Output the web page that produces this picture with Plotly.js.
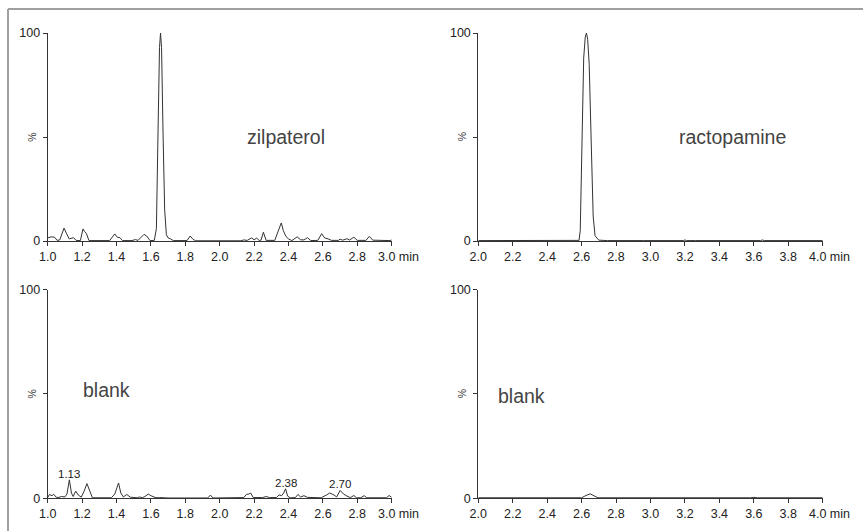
<!DOCTYPE html>
<html>
<head>
<meta charset="utf-8">
<script src="https://cdn.plot.ly/plotly-3.0.1.min.js"></script>
<style>html,body{margin:0;padding:0;background:#fff;}#chart{width:863px;height:531px;}</style>
</head>
<body>
<div id="chart"></div>
<script>
// Top-left: zilpaterol (time in min, intensity in %)
var zilTime = [1.00,1.02,1.04,1.055,1.07,1.095,1.11,1.125,1.15,1.165,1.19,1.205,1.215,1.225,1.24,1.36,1.39,1.405,1.42,1.435,1.49,1.51,1.525,1.545,1.56,1.575,1.595,1.62,1.632,1.641,1.650,1.656,1.662,1.671,1.68,1.69,1.70,1.715,1.73,1.81,1.828,1.845,1.86,2.12,2.14,2.16,2.185,2.20,2.215,2.23,2.24,2.254,2.27,2.32,2.345,2.358,2.37,2.385,2.40,2.42,2.45,2.47,2.49,2.51,2.53,2.57,2.593,2.61,2.63,2.65,2.69,2.70,2.715,2.74,2.755,2.78,2.80,2.85,2.87,2.89,2.99,3.0];
var zilInt  = [1.5,2.0,1.8,0.3,0.5,6.2,3.5,1.0,1.6,0.3,0.2,5.8,4.5,3.6,0.2,0.2,3.4,1.8,1.6,0.2,0.2,0.7,0.3,2.2,3.2,2.4,0.2,0.3,6,50,93,100,93,50,15,3,1.5,1.0,0.2,0.2,2.4,0.8,0.1,0.1,0.5,0.3,1.5,0.6,1.4,0.2,0.4,4.2,0.3,0.3,6,8.7,5,2.2,1.0,0.2,2.0,0.6,0.5,1.6,0.2,0.3,3.5,1.5,1.0,0.3,0.3,0.9,0.4,1.1,0.5,1.8,0.3,0.3,2.2,0.4,0.2,0.5];

// Top-right: ractopamine
var racTime = [2.0,2.45,2.48,2.50,2.585,2.592,2.601,2.612,2.621,2.628,2.635,2.644,2.655,2.667,2.678,2.69,2.70,2.75,2.94,2.96,3.19,3.20,3.21,3.24,3.26,3.64,3.65,3.66,3.92,3.94,4.0];
var racInt  = [0.2,0.2,0.4,0.2,0.3,5,50,88,98,100,97,85,50,12,2.5,1,0.4,0.2,0.5,0.2,0.2,0.5,0.2,0.4,0.2,0.2,0.5,0.2,0.4,0.2,0.2];

// Bottom-left: blank (zilpaterol channel)
var blank1Time = [1.00,1.01,1.025,1.035,1.05,1.065,1.08,1.10,1.112,1.126,1.138,1.148,1.163,1.178,1.195,1.21,1.228,1.245,1.26,1.37,1.39,1.412,1.425,1.44,1.46,1.48,1.52,1.535,1.55,1.565,1.585,1.60,1.615,1.63,1.65,1.665,1.685,1.70,1.93,1.946,1.96,2.14,2.155,2.17,2.18,2.195,2.25,2.27,2.29,2.33,2.345,2.36,2.372,2.383,2.395,2.41,2.44,2.455,2.47,2.49,2.51,2.55,2.56,2.59,2.62,2.64,2.665,2.68,2.70,2.72,2.74,2.76,2.78,2.795,2.82,2.84,2.855,2.97,2.985,3.0];
var blank1Int  = [0.3,1.8,1.2,1.9,0.4,0.4,0.8,0.6,2,8.8,2.5,0.8,3.4,1.5,0.5,3,7,3,0.2,0.2,2,7.3,2.5,0.6,1.8,0.5,0.2,0.6,0.2,0.8,2,1.2,0.6,0.2,0.3,0.2,0.4,0.1,0.1,1.5,0.1,0.3,1.8,2,2.5,0.3,0.3,0.8,0.3,0.3,1.6,1.2,2.5,4.5,1,0.2,0.3,1.8,0.6,1.2,0.4,0.3,0.4,0.2,1.5,2.5,1.5,0.6,3.7,2,1,0.3,1.3,0.2,0.2,1.2,0.2,0.2,1.3,0.4];
var blank1Labels = ["1.13","2.38","2.70"];
var blank1LabelTime = [1.126,2.383,2.70];
var blank1LabelInt = [8.8,4.5,3.7];

// Bottom-right: blank (ractopamine channel)
var blank2Time = [2.0,2.28,2.30,2.32,2.60,2.625,2.65,2.675,2.695,3.58,3.60,3.62,4.0];
var blank2Int  = [0.2,0.2,0.4,0.2,0.2,1.3,2.1,1.0,0.2,0.2,0.4,0.2,0.2];

var panelNames = ["zilpaterol","ractopamine","blank","blank"];
var xTicksLeft = [1.0,1.2,1.4,1.6,1.8,2.0,2.2,2.4,2.6,2.8,3.0];
var xTicksRight = [2.0,2.2,2.4,2.6,2.8,3.0,3.2,3.4,3.6,3.8,4.0];
var timeUnit = "min";
var yTickVals = [0,50,100];
var yTickText = ["0","","100"];

var lineStyle = {color:"#333333", width:1};
var font = "Liberation Sans, Arial, sans-serif";
var tickSize = 12.5;

var traces = [
  {x:zilTime, y:zilInt, xaxis:"x", yaxis:"y"},
  {x:racTime, y:racInt, xaxis:"x2", yaxis:"y2"},
  {x:blank1Time, y:blank1Int, xaxis:"x3", yaxis:"y3"},
  {x:blank2Time, y:blank2Int, xaxis:"x4", yaxis:"y4"}
].map(function(t){ t.type="scatter"; t.mode="lines"; t.line=lineStyle; t.hoverinfo="skip"; return t; });

function xax(dom, anchor, range, ticks){
  // last tick label is drawn together with the unit as "x.0 min"
  var txt = ticks.map(function(v,i){ return i===ticks.length-1 ? "" : v.toFixed(1); });
  return {domain:dom, anchor:anchor, range:range, tickvals:ticks, ticktext:txt,
    showline:true, linecolor:"#333", linewidth:1, ticks:"outside", ticklen:4, tickcolor:"#333",
    showgrid:false, zeroline:false, tickfont:{size:tickSize, color:"#222", family:font}, fixedrange:true};
}
function yax(dom, anchor){
  return {domain:dom, anchor:anchor, range:[0,100], tickvals:yTickVals, ticktext:yTickText,
    showline:true, linecolor:"#333", linewidth:1, ticks:"outside", ticklen:4, tickcolor:"#333",
    showgrid:false, zeroline:false, tickfont:{size:tickSize, color:"#222", family:font}, fixedrange:true};
}

var xL = [47.7/863, 391.7/863], xR = [478.3/863, 822.7/863];
var yT = [1-241/531, 1-33/531], yB = [1-498.2/531, 1-289.6/531];

var annotations = [];
var axPairs = [["x","y"],["x2","y2"],["x3","y3"],["x4","y4"]];
var lastTicks = [xTicksLeft[10], xTicksRight[10], xTicksLeft[10], xTicksRight[10]];
axPairs.forEach(function(p,i){
  annotations.push({xref:p[0]+" domain", yref:p[1]+" domain", x:1, y:0, xanchor:"left", yanchor:"top",
    xshift:-16, yshift:-7, text:lastTicks[i].toFixed(1)+" "+timeUnit, showarrow:false,
    font:{size:tickSize, color:"#222", family:font}});
  annotations.push({xref:p[0]+" domain", yref:p[1], x:0, y:50, xanchor:"center", yanchor:"middle",
    xshift:-16, text:"%", textangle:-90, showarrow:false, font:{size:10.5, color:"#333", family:font}});
});
var namePos = [[0.694,0.5,"x","y"],[0.738,0.5,"x2","y2"],[0.17,0.52,"x3","y3"],[0.125,0.49,"x4","y4"]];
namePos.forEach(function(n,i){
  annotations.push({xref:n[2]+" domain", yref:n[3]+" domain", x:n[0], y:n[1], xanchor:"center", yanchor:"middle",
    text:panelNames[i], showarrow:false, font:{size:19.5, color:"#444", family:font}});
});
blank1Labels.forEach(function(l,i){
  annotations.push({xref:"x3", yref:"y3", x:blank1LabelTime[i], y:blank1LabelInt[i], xanchor:"center", yanchor:"bottom",
    yshift:-2, text:l, showarrow:false, font:{size:11.5, color:"#222", family:font}});
});

var layout = {
  width:863, height:531, margin:{l:0,r:0,t:0,b:0}, showlegend:false,
  paper_bgcolor:"#fff", plot_bgcolor:"#fff", font:{family:font},
  xaxis:xax(xL,"y",[1,3],xTicksLeft), yaxis:yax(yT,"x"),
  xaxis2:xax(xR,"y2",[2,4],xTicksRight), yaxis2:yax(yT,"x2"),
  xaxis3:xax(xL,"y3",[1,3],xTicksLeft), yaxis3:yax(yB,"x3"),
  xaxis4:xax(xR,"y4",[2,4],xTicksRight), yaxis4:yax(yB,"x4"),
  annotations:annotations,
  shapes:[
    {type:"line", xref:"paper", yref:"paper", x0:8/863, x1:1, y0:1-9/531, y1:1-9/531, line:{color:"#a0a0a0", width:2}},
    {type:"line", xref:"paper", yref:"paper", x0:8/863, x1:8/863, y0:0, y1:1-9/531, line:{color:"#a0a0a0", width:2}}
  ]
};
Plotly.newPlot("chart", traces, layout, {staticPlot:true, displayModeBar:false});
</script>
</body>
</html>
